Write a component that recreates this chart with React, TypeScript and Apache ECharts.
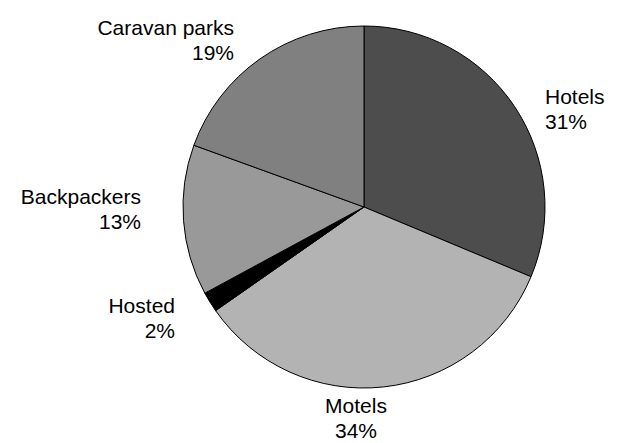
import React, { useEffect, useRef } from "react";
import * as echarts from "echarts";

const categories = ["Hotels", "Motels", "Hosted", "Backpackers", "Caravan parks"];
const values = [31.2, 33.9, 1.8, 13.4, 19.4];
const colors = ["#4d4d4d", "#b3b3b3", "#000000", "#999999", "#808080"];

// label anchor placement (layout only)
const labelPlacement: { x: number; y: number; align: "left" | "right" | "center" }[] = [
  { x: 545, y: 109, align: "left" },
  { x: 356, y: 418, align: "center" },
  { x: 175, y: 318, align: "right" },
  { x: 141, y: 209, align: "right" },
  { x: 234, y: 40, align: "right" },
];

export default function App() {
  const ref = useRef<HTMLDivElement>(null);
  useEffect(() => {
    if (!ref.current) return;
    const chart = echarts.init(ref.current, undefined, { renderer: "svg" });
    chart.setOption({
      animation: false,
      backgroundColor: "#ffffff",
      series: [
        {
          type: "pie",
          center: [364, 207],
          radius: [0, 181],
          startAngle: 90,
          clockwise: true,
          avoidLabelOverlap: false,
          data: categories.map((name, i) => ({
            name,
            value: values[i],
            itemStyle: { color: colors[i] },
          })),
          itemStyle: { borderColor: "#000000", borderWidth: 1 },
          emphasis: { disabled: true },
          label: {
            show: true,
            position: "outside",
            formatter: (p: any) => `${p.name}\n${Math.round(p.percent)}%`,
            color: "#000000",
            fontFamily: "Arial, 'Liberation Sans', sans-serif",
            fontSize: 21,
            lineHeight: 25,
          },
          labelLine: { show: false },
          labelLayout: (params: any) => {
            const p = labelPlacement[params.dataIndex];
            return { x: p.x, y: p.y, align: p.align, verticalAlign: "middle" };
          },
        },
      ],
    });
    return () => chart.dispose();
  }, []);
  return (
    <div
      ref={ref}
      style={{ position: "fixed", left: 0, top: 0, width: 617, height: 443, background: "#fff" }}
    />
  );
}
